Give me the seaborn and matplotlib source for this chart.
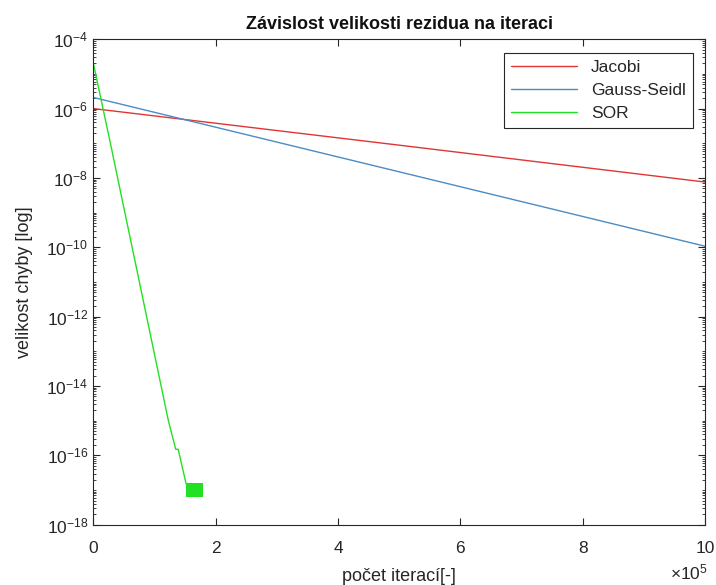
import numpy as np
import pandas as pd
import matplotlib
matplotlib.use("Agg")
import matplotlib.pyplot as plt
import matplotlib.ticker as mticker
import seaborn as sns

# ---- data ----
jacobi_x = [0, 500000, 1000000]
jacobi_y = [1.0e-6, 8.8e-8, 7.6e-9]

gs_x = [0, 500000, 1000000]
gs_y = [2.1e-6, 1.5e-8, 1.07e-10]

sor_x = [0, 28000, 123000, 135000, 139000, 152000]
sor_y = [2.2e-5, 1.05e-7, 1.0e-15, 1.5e-16, 1.5e-16, 1.5e-17]

# oscillation band at the end of SOR (filled block)
sor_band_x = [151000, 180000]
sor_band_lo = [6.3e-18, 6.3e-18]
sor_band_hi = [1.6e-17, 1.6e-17]

x_ticks = [0, 200000, 400000, 600000, 800000, 1000000]
x_tick_labels = ["0", "2", "4", "6", "8", "10"]
y_exps = [-18, -16, -14, -12, -10, -8, -6, -4]

series = ["Jacobi", "Gauss-Seidl", "SOR"]
colors = {"Jacobi": "#e03535", "Gauss-Seidl": "#4a8cc4", "SOR": "#22e022"}

df = pd.concat([
    pd.DataFrame({"x": jacobi_x, "y": jacobi_y, "metoda": "Jacobi"}),
    pd.DataFrame({"x": gs_x, "y": gs_y, "metoda": "Gauss-Seidl"}),
    pd.DataFrame({"x": sor_x, "y": sor_y, "metoda": "SOR"}),
], ignore_index=True)

sns.set_theme(style="white")
plt.rcParams["font.family"] = ["Liberation Sans", "DejaVu Sans"]
plt.rcParams["mathtext.default"] = "regular"

fig = plt.figure(figsize=(7.16, 5.85), dpi=100)
ax = fig.add_axes([0.130, 0.103, 0.855, 0.830])

sns.lineplot(data=df, x="x", y="y", hue="metoda", hue_order=series,
             palette=colors, ax=ax, linewidth=1.0, sort=False,
             estimator=None)
ax.fill_between(sor_band_x, sor_band_lo, sor_band_hi,
                color=colors["SOR"], linewidth=0)

ax.set_yscale("log")
ax.set_xlim(0, 1000000)
ax.set_ylim(1e-18, 1e-4)

ax.set_xticks(x_ticks)
ax.set_xticklabels(x_tick_labels)
ax.set_yticks([10.0 ** e for e in y_exps])
ax.set_yticklabels(["10$^{%d}$" % e for e in y_exps])
minor = [m * 10.0 ** e for e in range(-18, -4) for m in range(1, 10)
         if not (m == 1 and e % 2 == 0)]
ax.yaxis.set_minor_locator(mticker.FixedLocator(minor))
ax.yaxis.set_minor_formatter(mticker.NullFormatter())

ax.tick_params(axis="both", which="both", direction="in", top=True, right=True,
               left=True, bottom=True,
               labelsize=12.5, colors="#262626", labelcolor="#262626")
ax.tick_params(which="major", length=5, width=0.8)
ax.tick_params(which="minor", length=2.5, width=0.6)
ax.tick_params(axis="x", pad=12)
for s in ax.spines.values():
    s.set_color("#262626")
    s.set_linewidth(0.8)

ax.set_title("Závislost velikosti rezidua na iteraci", fontsize=13,
             fontweight="bold", color="#111111", pad=7)
ax.set_xlabel("počet iterací[-]", fontsize=13, color="#262626", labelpad=8)
ax.set_ylabel("velikost chyby [log]", fontsize=13, color="#262626", labelpad=10)
ax.text(1.005, -0.098, r"$\times$10$^{5}$", transform=ax.transAxes,
        ha="right", va="center", fontsize=12.5, color="#262626")

leg = ax.legend(loc="upper right", bbox_to_anchor=(0.980, 0.971),
                borderaxespad=0,
                frameon=True, fancybox=False, framealpha=1,
                edgecolor="#262626", fontsize=12.5, handlelength=3.8,
                borderpad=0.4, labelspacing=0.45, title=None)
leg.get_frame().set_linewidth(0.8)

fig.savefig("out.png", dpi=100)
